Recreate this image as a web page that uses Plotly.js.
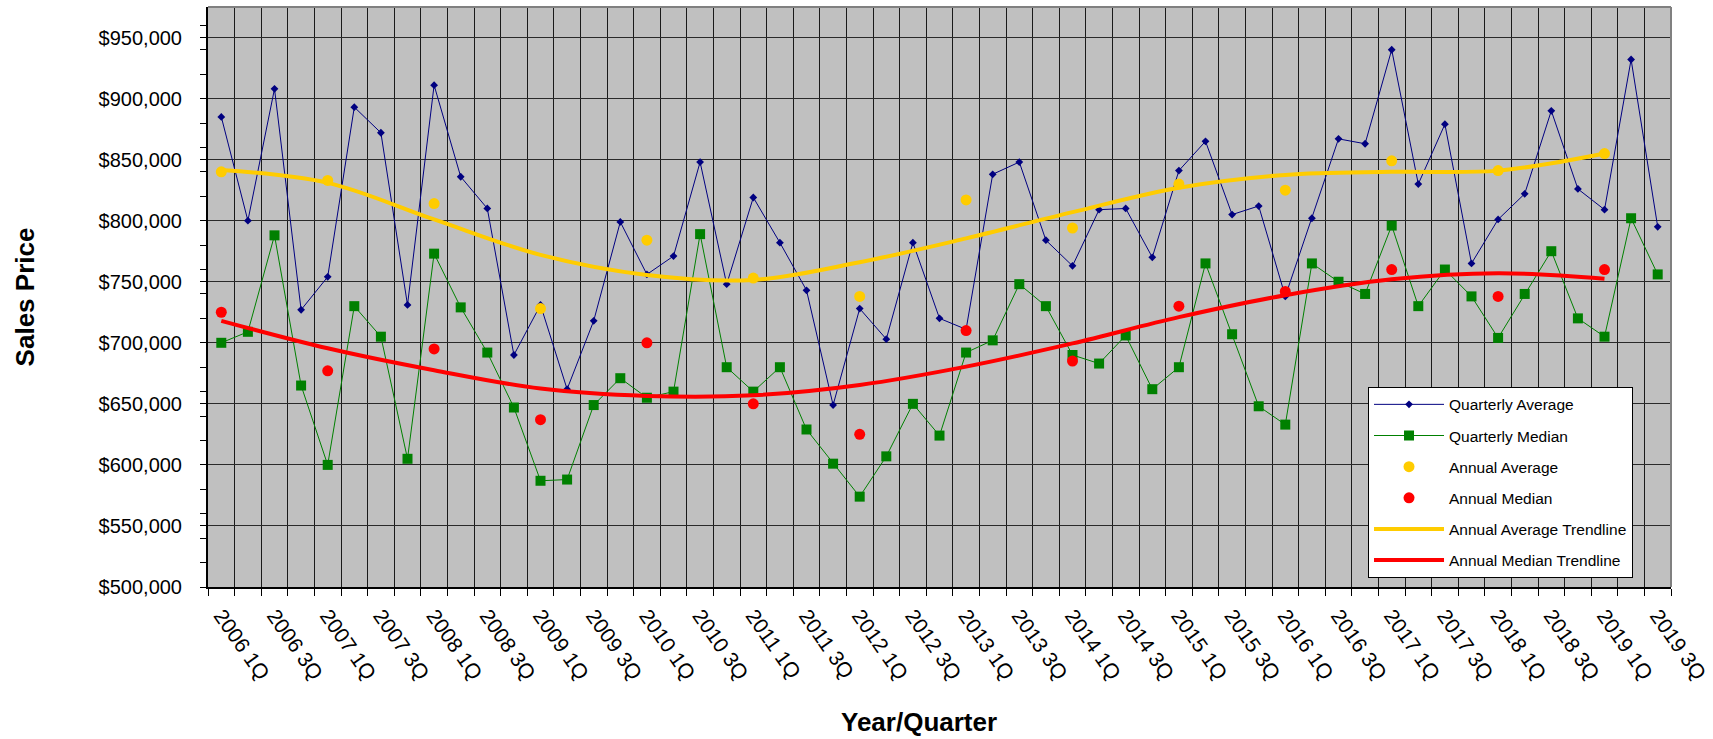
<!DOCTYPE html>
<html>
<head>
<meta charset="utf-8">
<script src="https://cdn.plot.ly/plotly-3.0.1.min.js"></script>
<style>
  html, body { margin: 0; padding: 0; background: #ffffff; }
  #chart { width: 1713px; height: 739px; }
</style>
</head>
<body>
<div id="chart"></div>
<script>
// ---- Data ----
const years = [2006, 2007, 2008, 2009, 2010, 2011, 2012, 2013, 2014, 2015, 2016, 2017, 2018, 2019];
const quarterNames = ['1Q', '2Q', '3Q', '4Q'];

// 55 quarters: 2006 1Q ... 2019 3Q
const quarters = [];
years.forEach(y => quarterNames.forEach(q => { quarters.push(y + ' ' + q); }));
quarters.length = 55;

const quarterlyAverage = [
  885000, 800000, 908000, 727000, 754000, 893000, 872000, 731000, 911000, 836000,
  810000, 690000, 731000, 662000, 718000, 799000, 756000, 771000, 848000, 748000,
  819000, 782000, 743000, 649000, 728000, 703000, 782000, 720000, 711000, 838000,
  848000, 784000, 763000, 809000, 810000, 770000, 841000, 865000, 805000, 812000,
  738000, 802000, 867000, 863000, 940000, 830000, 879000, 765000, 801000, 822000,
  890000, 826000, 809000, 932000, 795000
];

const quarterlyMedian = [
  700000, 709000, 788000, 665000, 600000, 730000, 705000, 605000, 773000, 729000,
  692000, 647000, 587000, 588000, 649000, 671000, 655000, 660000, 789000, 680000,
  660000, 680000, 629000, 601000, 574000, 607000, 650000, 624000, 692000, 702000,
  748000, 730000, 690000, 683000, 706000, 662000, 680000, 765000, 707000, 648000,
  633000, 765000, 750000, 740000, 796000, 730000, 760000, 738000, 704000, 740000,
  775000, 720000, 705000, 802000, 756000
];

// Annual values are plotted at each year's 1Q slot
const annualAverage = [840000, 833000, 814000, 728000, 784000, 753000, 738000, 817000, 794000, 830000, 825000, 849000, 841000, 855000];
const annualMedian  = [725000, 677000, 695000, 637000, 700000, 650000, 625000, 710000, 685000, 730000, 742000, 760000, 738000, 760000];

// Trendline values at each annual slot
const annualAverageTrend = [841500, 831000, 801000, 772000, 755500, 751500, 766000, 785500, 807000, 827000, 837500, 840000, 841000, 855000];
const annualMedianTrend  = [718000, 695500, 677500, 662500, 656500, 657000, 665500, 680500, 699500, 721000, 739000, 752000, 757000, 752500];

// Tick labels: every other quarter
const tickLabels = quarters.map((q, i) => (i % 2 === 0 ? q : ''));
const annualX = years.map(y => y + ' 1Q');

// ---- Styling ----
const FONT = 'Liberation Sans, Arial, Helvetica, sans-serif';

const traces = [
  {
    name: 'Quarterly Average', x: quarters, y: quarterlyAverage, type: 'scatter', mode: 'lines+markers',
    line: { color: '#000080', width: 1 }, marker: { color: '#000080', symbol: 'diamond', size: 6 },
    legendgroup: 'g1'
  },
  {
    name: 'Quarterly Median', x: quarters, y: quarterlyMedian, type: 'scatter', mode: 'lines+markers',
    line: { color: '#008000', width: 1 }, marker: { color: '#008000', symbol: 'square', size: 10 },
    legendgroup: 'g2'
  },
  {
    name: 'Annual Average', x: annualX, y: annualAverage, type: 'scatter', mode: 'markers',
    marker: { color: '#FFCC00', symbol: 'circle', size: 11 },
    legendgroup: 'g3'
  },
  {
    name: 'Annual Median', x: annualX, y: annualMedian, type: 'scatter', mode: 'markers',
    marker: { color: '#FF0000', symbol: 'circle', size: 11 },
    legendgroup: 'g4'
  },
  {
    name: 'Annual Average Trendline', x: annualX, y: annualAverageTrend, type: 'scatter', mode: 'lines',
    line: { color: '#FFCC00', width: 4, shape: 'spline', smoothing: 1 },
    legendgroup: 'g5'
  },
  {
    name: 'Annual Median Trendline', x: annualX, y: annualMedianTrend, type: 'scatter', mode: 'lines',
    line: { color: '#FF0000', width: 4, shape: 'spline', smoothing: 1 },
    legendgroup: 'g6'
  }
];

const layout = {
  width: 1713,
  height: 739,
  margin: { l: 208, r: 42, t: 7, b: 152, pad: 0 },
  paper_bgcolor: '#ffffff',
  plot_bgcolor: '#C0C0C0',
  font: { family: FONT, color: '#000000', size: 20 },
  showlegend: true,
  legend: {
    x: 0.7929, y: 0.3452, xanchor: 'left', yanchor: 'top',
    bgcolor: '#ffffff', bordercolor: '#000000', borderwidth: 1,
    font: { family: FONT, size: 15.5, color: '#000000' },
    tracegroupgap: 8,
    traceorder: 'grouped',
    itemwidth: 70,
    entrywidth: 282,
    entrywidthmode: 'pixels'
  },
  xaxis: {
    type: 'category',
    categoryorder: 'array',
    categoryarray: quarters,
    range: [-0.5, 54.5],
    tickmode: 'array',
    tickvals: quarters,
    ticktext: tickLabels,
    tickson: 'boundaries',
    ticks: 'outside', ticklen: 7, tickcolor: '#000000', tickwidth: 1,
    tickangle: 55,
    ticklabelstandoff: 6,
    tickfont: { family: FONT, size: 21, color: '#000000' },
    showgrid: true, gridcolor: '#1a1a1a', gridwidth: 1,
    showline: true, linecolor: '#000000', linewidth: 2,
    zeroline: false,
    automargin: false
  },
  yaxis: {
    range: [500000, 975000],
    tickmode: 'linear', tick0: 0, dtick: 50000,
    tickformat: '$,.0f',
    ticks: 'outside', ticklen: 6, tickcolor: '#000000', tickwidth: 1,
    ticklabelstandoff: 14,
    tickfont: { family: FONT, size: 20, color: '#000000' },
    minor: { dtick: 20000, ticks: 'outside', ticklen: 6, tickcolor: '#000000', tickwidth: 1, showgrid: false },
    showgrid: true, gridcolor: '#2a2a2a', gridwidth: 1,
    showline: true, linecolor: '#000000', linewidth: 2,
    zeroline: false,
    automargin: false,
    title: { text: 'Sales Price', font: { family: FONT, size: 26, color: '#000000', weight: 'bold' }, standoff: 56 }
  },
  annotations: [
    {
      text: 'Year/Quarter', xref: 'paper', yref: 'paper', x: 0.4862, y: -0.2335,
      xanchor: 'center', yanchor: 'middle', showarrow: false,
      font: { family: FONT, size: 26, color: '#000000', weight: 'bold' }
    }
  ],
  shapes: [
    { type: 'line', xref: 'paper', yref: 'paper', x0: 0, x1: 1, y0: 1, y1: 1, line: { color: '#808080', width: 2 }, layer: 'above' },
    { type: 'line', xref: 'paper', yref: 'paper', x0: 1, x1: 1, y0: 0, y1: 1, line: { color: '#808080', width: 2 }, layer: 'above' }
  ]
};

Plotly.newPlot('chart', traces, layout, { displayModeBar: false, responsive: false, staticPlot: true });
</script>
</body>
</html>
